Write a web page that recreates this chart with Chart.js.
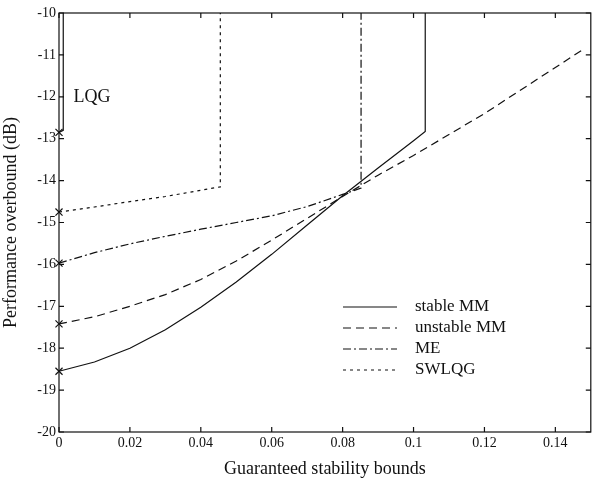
<!DOCTYPE html>
<html>
<head>
<meta charset="utf-8">
<script src="https://cdn.jsdelivr.net/npm/chart.js@4.4.0/dist/chart.umd.min.js"></script>
<style>
  html, body { margin: 0; padding: 0; background: #fff; }
  #wrap { width: 597px; height: 480px; }
</style>
</head>
<body>
<div id="wrap"><canvas id="plot" width="597" height="480"></canvas></div>
<script>
// values
const stableX   = [0, 0.01, 0.02, 0.03, 0.04, 0.05, 0.06, 0.07, 0.08, 0.09, 0.10, 0.1033, 0.1033];
const stableY   = [-18.55, -18.33, -18.0, -17.56, -17.02, -16.42, -15.76, -15.06, -14.36, -13.7, -13.05, -12.83, -10];
const unstableX = [0, 0.01, 0.02, 0.03, 0.04, 0.05, 0.06, 0.07, 0.08, 0.09, 0.10, 0.11, 0.12, 0.13, 0.14, 0.148];
const unstableY = [-17.42, -17.25, -17.0, -16.72, -16.36, -15.92, -15.42, -14.9, -14.38, -13.87, -13.4, -12.9, -12.4, -11.85, -11.3, -10.86];
const meX       = [0, 0.01, 0.02, 0.03, 0.04, 0.05, 0.06, 0.07, 0.08, 0.0852, 0.0852];
const meY       = [-15.97, -15.72, -15.51, -15.33, -15.16, -15.0, -14.84, -14.62, -14.33, -14.18, -10];
const swlqgX    = [0, 0.01, 0.02, 0.03, 0.04, 0.0455, 0.0455];
const swlqgY    = [-14.75, -14.63, -14.5, -14.38, -14.23, -14.15, -10];
const lqgX      = [0, 0.0012, 0.0012];
const lqgY      = [-12.85, -12.8, -10];

const xTicks = [0, 0.02, 0.04, 0.06, 0.08, 0.1, 0.12, 0.14];
const yTicks = [-20, -19, -18, -17, -16, -15, -14, -13, -12, -11, -10];

const serif = '"Liberation Serif", "DejaVu Serif", serif';

function pts(xs, ys) {
    return xs.map((x, i) => ({ x: x, y: ys[i] }));
}

// cross only on the first point (x = 0)
function firstCross(ctx) {
    return ctx.dataIndex === 0 ? 5 : 0;
}

function series(label, xs, ys, dash, inLegend) {
    return {
        label: label,
        data: pts(xs, ys),
        showLine: true,
        clip: false,
        borderColor: '#111',
        borderWidth: 1.2,
        borderDash: dash,
        pointStyle: 'crossRot',
        pointRadius: firstCross,
        pointBorderColor: '#111',
        pointBorderWidth: 1.2,
        tension: 0,
        inLegend: inLegend
    };
}

// inward ticks on all four sides and the closing box
const frame = {
    id: 'frame',
    afterDraw(chart) {
        const { ctx, chartArea: a, scales: { x, y } } = chart;
        ctx.save();
        ctx.strokeStyle = '#111';
        ctx.lineWidth = 1.2;
        ctx.strokeRect(a.left, a.top, a.right - a.left, a.bottom - a.top);
        ctx.beginPath();
        xTicks.forEach(v => {
            const px = x.getPixelForValue(v);
            ctx.moveTo(px, a.bottom); ctx.lineTo(px, a.bottom - 5);
            ctx.moveTo(px, a.top); ctx.lineTo(px, a.top + 5);
        });
        yTicks.forEach(v => {
            const py = y.getPixelForValue(v);
            ctx.moveTo(a.left, py); ctx.lineTo(a.left + 5, py);
            ctx.moveTo(a.right, py); ctx.lineTo(a.right - 5, py);
        });
        ctx.stroke();

        // LQG label
        ctx.fillStyle = '#111';
        ctx.font = '18px ' + serif;
        ctx.textBaseline = 'middle';
        ctx.fillText('LQG', x.getPixelForValue(0.0041), y.getPixelForValue(-12.0));

        // legend in the lower right of the plot
        let row = 0;
        chart.data.datasets.forEach(ds => {
            if (!ds.inLegend) return;
            const ly = 307 + row * 21;
            ctx.setLineDash(ds.borderDash);
            ctx.lineWidth = 1.2;
            ctx.beginPath();
            ctx.moveTo(343, ly); ctx.lineTo(397, ly);
            ctx.stroke();
            ctx.setLineDash([]);
            ctx.font = '17px ' + serif;
            ctx.fillText(ds.label, 415, ly);
            row++;
        });
        ctx.restore();
    }
};

new Chart(document.getElementById('plot'), {
    type: 'scatter',
    data: {
        datasets: [
            series('stable MM', stableX, stableY, [], true),
            series('unstable MM', unstableX, unstableY, [8, 5], true),
            series('ME', meX, meY, [8, 3, 2, 3], true),
            series('SWLQG', swlqgX, swlqgY, [3, 4], true),
            series('LQG', lqgX, lqgY, [], false)
        ]
    },
    options: {
        responsive: false,
        animation: false,
        layout: { padding: { top: 13, right: 4, left: 0, bottom: 0 } },
        plugins: { legend: { display: false }, tooltip: { enabled: false } },
        scales: {
            x: {
                type: 'linear',
                min: 0,
                max: 0.15,
                afterBuildTicks: s => { s.ticks = xTicks.map(v => ({ value: v })); },
                afterFit: s => { s.height = 48; },
                grid: { display: false, drawTicks: false },
                border: { display: false },
                ticks: {
                    color: '#111',
                    padding: 3,
                    maxRotation: 0,
                    font: { family: serif, size: 14 },
                    callback: v => String(v)
                },
                title: {
                    display: true,
                    text: 'Guaranteed stability bounds',
                    color: '#111',
                    padding: { top: 0, bottom: 0 },
                    font: { family: serif, size: 18 }
                }
            },
            y: {
                type: 'linear',
                min: -20,
                max: -10,
                afterBuildTicks: s => { s.ticks = yTicks.map(v => ({ value: v })); },
                afterFit: s => { s.width = 59; },
                grid: { display: false, drawTicks: false },
                border: { display: false },
                ticks: {
                    color: '#111',
                    padding: 3,
                    font: { family: serif, size: 14 },
                    callback: v => String(v)
                },
                title: {
                    display: true,
                    text: 'Performance overbound (dB)',
                    color: '#111',
                    padding: { top: 0, bottom: 0 },
                    font: { family: serif, size: 18 }
                }
            }
        }
    },
    plugins: [frame]
});
</script>
</body>
</html>
